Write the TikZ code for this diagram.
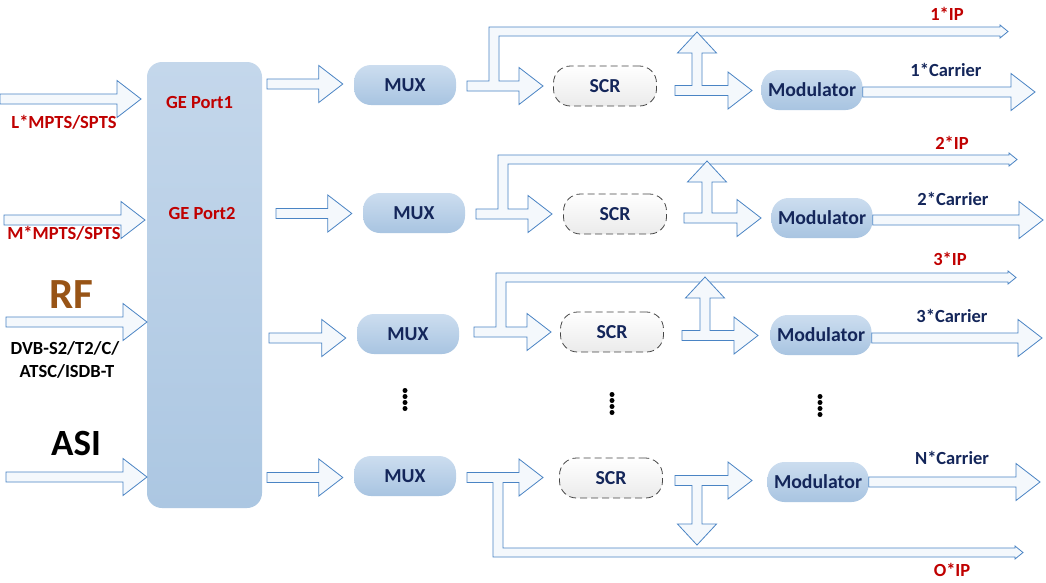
\documentclass[tikz,border=0pt]{standalone}
\usepackage{fontspec}
\setmainfont{Carlito}
\usetikzlibrary{calc}
\definecolor{arrowline}{RGB}{74,132,196}
\definecolor{arrowfill}{RGB}{244,248,252}
\definecolor{navy}{RGB}{20,38,90}
\definecolor{redlbl}{RGB}{192,0,0}
\definecolor{rfbrown}{RGB}{152,84,22}
\definecolor{boxtop}{RGB}{196,215,235}
\definecolor{boxbot}{RGB}{172,199,226}
\definecolor{nodetop}{RGB}{204,221,239}
\definecolor{nodebot}{RGB}{168,196,225}
\definecolor{scrline}{RGB}{70,70,70}
\tikzset{
  barrow/.style={draw=arrowline, fill=arrowfill, line width=0.8pt, line join=miter},
  procnode/.style={rounded corners=17pt, minimum width=102pt, minimum height=40pt,
    top color=nodetop, bottom color=nodebot, text=navy, inner sep=0pt,
    font=\bfseries\fontsize{19.8}{21}\selectfont},
  scrnode/.style={rounded corners=17pt, minimum width=103pt, minimum height=40pt,
    draw=scrline, line width=0.8pt, dash pattern=on 7pt off 4pt,
    top color=white, bottom color=black!8, text=navy, inner sep=0pt,
    font=\bfseries\fontsize{19.8}{21}\selectfont},
  gebox/.style={rounded corners=15pt, minimum width=115pt, minimum height=446pt,
    top color=boxtop, bottom color=boxbot, inner sep=0pt},
  lbl/.style={inner sep=0pt, font=\bfseries\fontsize{18.5}{20}\selectfont},
  redlabel/.style={lbl, text=redlbl},
  navylabel/.style={lbl, text=navy},
  biglabel/.style={inner sep=0pt, font=\bfseries\fontsize{37}{40}\selectfont},
  dotmark/.style={fill=black, circle, inner sep=0pt, minimum size=5pt},
}
% straight block arrow: start coordinate, tip coordinate (start's y is used)
\newcommand\harrow[2]{\path[barrow] let \p1=(#1), \p2=(#2) in
  (\x1,\y1+5pt) -- (\x2-24pt,\y1+5pt) -- (\x2-24pt,\y1+18.5pt) -- (\x2,\y1)
  -- (\x2-24pt,\y1-18.5pt) -- (\x2-24pt,\y1-5pt) -- (\x1,\y1-5pt) -- cycle;}
% block arrow with an IP branch going up: x0, yc, head base, branch x, band top, IP tip
\newcommand\splitup[6]{\path[barrow] (#1,#2+5) -- (#3,#2+5) -- (#3,#2+18.5) -- (#3+24,#2)
  -- (#3,#2-18.5) -- (#3,#2-5) -- (#4+10,#2-5) -- (#4+10,#5+9) -- (#6-8,#5+9)
  -- (#6-8,#5+11) -- (#6,#5+4.5) -- (#6-8,#5-2) -- (#6-8,#5) -- (#4,#5)
  -- (#4,#2-5) -- (#1,#2-5) -- cycle;}
\newcommand\splitdown[6]{\path[barrow] (#1,#2-5) -- (#3,#2-5) -- (#3,#2-18.5) -- (#3+24,#2)
  -- (#3,#2+18.5) -- (#3,#2+5) -- (#4+10,#2+5) -- (#4+10,#5) -- (#6-8,#5)
  -- (#6-8,#5-2) -- (#6,#5+4.5) -- (#6-8,#5+11) -- (#6-8,#5+9) -- (#4,#5+9)
  -- (#4,#2+5) -- (#1,#2+5) -- cycle;}
% block arrow with a vertical fork arrow: x0, yc, head base, branch x, fork tip y
\newcommand\forkup[5]{\path[barrow] (#1,#2+5) -- (#3,#2+5) -- (#3,#2+18.5) -- (#3+24,#2)
  -- (#3,#2-18.5) -- (#3,#2-5) -- (#4+10,#2-5) -- (#4+10,#5+21) -- (#4+24.5,#5+21)
  -- (#4+5,#5) -- (#4-14.5,#5+21) -- (#4,#5+21) -- (#4,#2-5) -- (#1,#2-5) -- cycle;}
\newcommand\forkdown[5]{\path[barrow] (#1,#2-5) -- (#3,#2-5) -- (#3,#2-18.5) -- (#3+24,#2)
  -- (#3,#2+18.5) -- (#3,#2+5) -- (#4+10,#2+5) -- (#4+10,#5-21) -- (#4+24.5,#5-21)
  -- (#4+5,#5) -- (#4-14.5,#5-21) -- (#4,#5-21) -- (#4,#2+5) -- (#1,#2+5) -- cycle;}
\begin{document}
\begin{tikzpicture}[x=1pt, y=-1pt]
\useasboundingbox (0,0) rectangle (1046,582);
\fill[white] (0,0) rectangle (1046,582);

% central GE box
\node[gebox] (ge) at (204.5,285) {};
\node[redlabel] (gep1) at (199.5,102) {GE Port1};
\node[redlabel] (gep2) at (202,213) {GE Port2};

% processing nodes
\node[procnode] (mux1) at (405,85) {MUX};
\node[procnode] (mux2) at (414,213) {MUX};
\node[procnode] (mux3) at (408,334) {MUX};
\node[procnode] (mux4) at (405,476) {MUX};
\node[scrnode] (scr1) at (605,86) {SCR};
\node[scrnode] (scr2) at (615,214) {SCR};
\node[scrnode] (scr3) at (612,332) {SCR};
\node[scrnode] (scr4) at (611,478) {SCR};
\node[procnode, minimum width=101pt] (mod1) at (812,90) {Modulator};
\node[procnode, minimum width=101pt] (mod2) at (822,218) {Modulator};
\node[procnode, minimum width=101pt] (mod3) at (821,335) {Modulator};
\node[procnode, minimum width=101pt] (mod4) at (818,482) {Modulator};

% input arrows
\coordinate (in1s) at (0,99);   \coordinate (in1t) at (141,99);
\coordinate (in2s) at (4,220);  \coordinate (in2t) at (145,220);
\coordinate (in3s) at (6,322);  \coordinate (in3t) at (147,322);
\coordinate (in4s) at (6,477);  \coordinate (in4t) at (147,477);
\harrow{in1s}{in1t}
\harrow{in2s}{in2t}
\harrow{in3s}{in3t}
\harrow{in4s}{in4t}

% GE box -> MUX
\coordinate (g1) at (267,84);   \coordinate (g2) at (276,213.5);
\coordinate (g3) at (269,338);  \coordinate (g4) at (267,477.5);
\harrow{g1}{$(mux1.west)+(-11,0)$}
\harrow{g2}{$(mux2.west)+(-11,0)$}
\harrow{g3}{$(mux3.west)+(-11,0)$}
\harrow{g4}{$(mux4.west)+(-11,0)$}

% MUX -> SCR with IP branch
\splitup{467}{86}{519}{489}{27}{1008}
\splitup{476}{214}{528}{498}{155}{1017}
\splitup{474}{332}{527}{496}{273}{1016}
\splitdown{467}{477.5}{519}{493}{548}{1023}

% SCR -> Modulator with fork
\forkup{675}{90.5}{728}{692}{32}
\forkup{684}{218}{737}{702}{161}
\forkup{682}{335.5}{734}{700}{277}
\forkdown{675}{480.5}{728}{692}{545}

% Modulator -> carrier
\coordinate (c1t) at (1035,92);  \coordinate (c2t) at (1043,220);
\coordinate (c3t) at (1042,338); \coordinate (c4t) at (1040,482);
\harrow{$(mod1.east)+(0,2)$}{c1t}
\harrow{$(mod2.east)+(0,2)$}{c2t}
\harrow{$(mod3.east)+(0,3)$}{c3t}
\harrow{$(mod4.east)+(0,0)$}{c4t}

% output labels
\node[redlabel] (ip1) at (947,14) {1*IP};
\node[redlabel] (ip2) at (952,143) {2*IP};
\node[redlabel] (ip3) at (950,259) {3*IP};
\node[redlabel] (ipo) at (952,570) {O*IP};
\node[navylabel] (car1) at (946,70) {1*Carrier};
\node[navylabel] (car2) at (953,199) {2*Carrier};
\node[navylabel] (car3) at (952,316) {3*Carrier};
\node[navylabel] (carn) at (952,458) {N*Carrier};

% input labels
\node[redlabel] (lmp) at (64,122) {L*MPTS/SPTS};
\node[redlabel] (mmp) at (64,233) {M*MPTS/SPTS};
\node[biglabel, text=rfbrown, font=\bfseries\fontsize{43}{45}\selectfont] (rf) at (71,295) {RF};
\node[lbl] (dvb1) at (65,348) {DVB-S2/T2/C/};
\node[lbl] (dvb2) at (67,371) {ATSC/ISDB-T};
\node[biglabel] (asi) at (76,443) {ASI};

% continuation dots
\foreach \yy in {0,6,12,18} {
  \node[dotmark] at (405,390.5+\yy) {};
  \node[dotmark] at (612,394.5+\yy) {};
  \node[dotmark] at (820,396.5+\yy) {};
}
\end{tikzpicture}
\end{document}
